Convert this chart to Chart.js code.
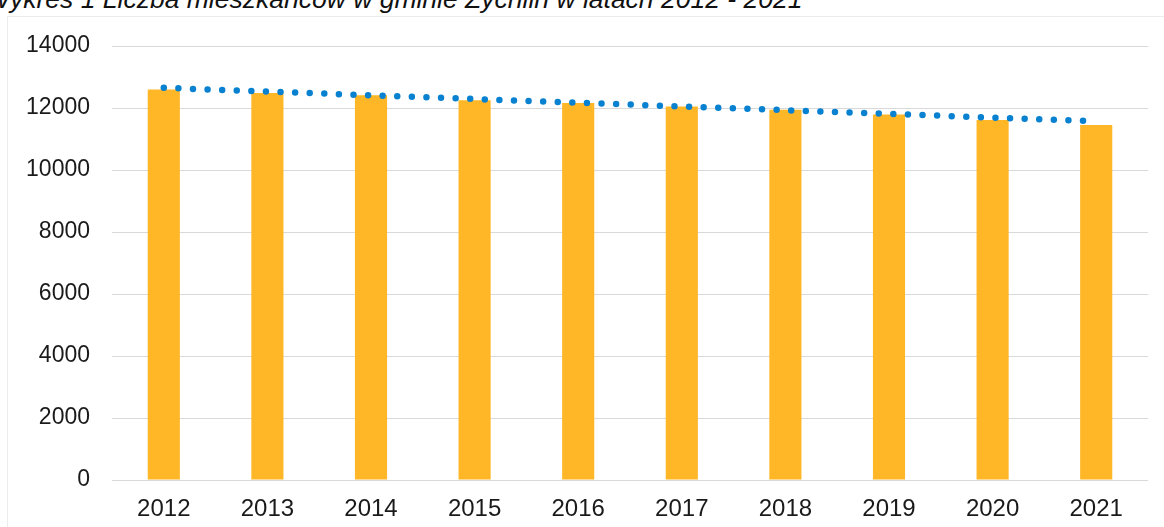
<!DOCTYPE html>
<html>
<head>
<meta charset="utf-8">
<script src="https://cdn.jsdelivr.net/npm/chart.js@4/dist/chart.umd.min.js"></script>
<style>
    html, body { margin: 0; padding: 0; background: #fff; overflow: hidden; }
    #wrap { position: relative; width: 1164px; height: 527px; }
    #frame { position: absolute; left: 7px; top: 16px; width: 1170px; height: 520px; border-left: 1px solid #ececec; border-top: 1px solid #ececec; }
    #title { position: absolute; left: -15px; top: -14px; font: italic 26.5px 'Liberation Sans', Arial, sans-serif; line-height: 26px; color: #111; white-space: nowrap; }
    canvas { position: absolute; left: 0; top: 0; }
</style>
</head>
<body>
<div id="wrap">
    <div id="frame"></div>
    <div id="title">Wykres 1 Liczba mieszkańców w gminie Żychlin w latach 2012 - 2021</div>
    <canvas id="chart" width="1164" height="527"></canvas>
</div>
<script>
const years = ['2012', '2013', '2014', '2015', '2016', '2017', '2018', '2019', '2020', '2021'];
const residents = [12600, 12480, 12410, 12250, 12160, 12050, 11940, 11790, 11610, 11450];
// trend line: only the two ends, the rest is spanned
const trend = [12650, null, null, null, null, null, null, null, null, 11570];
const yTicks = [0, 2000, 4000, 6000, 8000, 10000, 12000, 14000];

const font = "'Liberation Sans', Arial, sans-serif";

new Chart(document.getElementById('chart'), {
    data: {
        labels: years,
        datasets: [
            {
                type: 'line',
                label: 'Trend',
                data: trend,
                spanGaps: true,
                borderColor: '#0882D0',
                borderWidth: 6.5,
                borderDash: [0, 14.6],
                borderCapStyle: 'round',
                pointRadius: 0,
                fill: false,
                order: 0
            },
            {
                type: 'bar',
                label: 'Liczba mieszkańców',
                data: residents,
                backgroundColor: '#FFB627',
                categoryPercentage: 1,
                barPercentage: 0.31,
                order: 1
            }
        ]
    },
    options: {
        responsive: false,
        animation: false,
        devicePixelRatio: 1,
        layout: { padding: { top: 46, right: 16, left: 0, bottom: 0 } },
        plugins: {
            legend: { display: false },
            tooltip: { enabled: false }
        },
        scales: {
            x: {
                grid: { display: false, drawTicks: false },
                border: { display: false },
                ticks: { color: '#1a1a1a', font: { family: font, size: 24 }, padding: 15 },
                afterFit: s => { s.height = 47; }
            },
            y: {
                min: 0,
                max: 14000,
                afterBuildTicks: s => { s.ticks = yTicks.map(v => ({ value: v })); },
                grid: { color: '#d9d9d9', lineWidth: 1, drawTicks: false },
                border: { display: false },
                ticks: {
                    color: '#1a1a1a',
                    font: { family: font, size: 23 },
                    padding: 22,
                    callback: v => String(v)
                },
                afterFit: s => { s.width = 112; }
            }
        }
    }
});
</script>
</body>
</html>
